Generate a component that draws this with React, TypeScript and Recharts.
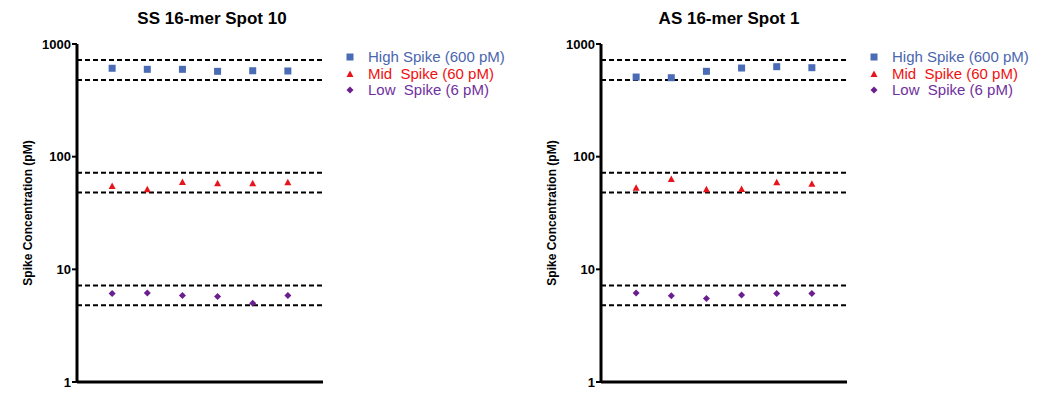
import { ScatterChart, Scatter, XAxis, YAxis, ReferenceLine } from 'recharts'

const FONT = '"Liberation Sans", Arial, sans-serif'

// replicate positions along the x axis
const positions = [1, 2, 3, 4, 5, 6]
const yTicks = [1, 10, 100, 1000]

// acceptance bands (+/- 20% of nominal spike)
const bandLines = [720, 480, 72, 48, 7.2, 4.8]

const ssHigh = [609, 596, 596, 572, 579, 576]
const ssMid = [55, 51.4, 59.6, 58, 58, 59.3]
const ssLow = [6.09, 6.18, 5.85, 5.73, 5.0, 5.85]

const asHigh = [509, 502, 572, 612, 629, 616]
const asMid = [53, 63.4, 51.4, 51.7, 59.3, 57.5]
const asLow = [6.15, 5.82, 5.5, 5.92, 6.09, 6.09]

const seriesNames = ['High Spike (600 pM)', 'Mid  Spike (60 pM)', 'Low  Spike (6 pM)']
const markerColors = ['#4a6bb5', '#e8141c', '#6b1f8f']
const textColors = ['#4a66ad', '#f01010', '#7030a0']

const toPoints = (vals: number[]) => vals.map((v, i) => ({ x: positions[i], y: v }))

const Square = (p: any) => <rect x={p.cx - 3.5} y={p.cy - 3.5} width={7} height={7} fill={markerColors[0]} />
const Triangle = (p: any) => (
    <polygon points={`${p.cx},${p.cy - 3.5} ${p.cx + 3.5},${p.cy + 3} ${p.cx - 3.5},${p.cy + 3}`} fill={markerColors[1]} />
)
const Diamond = (p: any) => (
    <polygon points={`${p.cx},${p.cy - 3.5} ${p.cx + 3.5},${p.cy} ${p.cx},${p.cy + 3.5} ${p.cx - 3.5},${p.cy}`} fill={markerColors[2]} />
)
const shapes = [Square, Triangle, Diamond]

function LegendBox() {
    return (
        <div style={{ position: 'absolute', left: 346, top: 49, fontFamily: FONT, fontSize: 15, lineHeight: '16.5px' }}>
            {seriesNames.map((n, i) => (
                <div key={n} style={{ display: 'flex', alignItems: 'center', whiteSpace: 'pre', color: textColors[i] }}>
                    <svg width={22} height={10}>{shapes[i]({ cx: 4, cy: 5 })}</svg>
                    <span>{n}</span>
                </div>
            ))}
        </div>
    )
}

interface PanelProps {
    title: string
    titleX: number
    high: number[]
    mid: number[]
    low: number[]
    left: number
}

function Panel({ title, titleX, high, mid, low, left }: PanelProps) {
    const sets = [high, mid, low]
    return (
        <div style={{ position: 'absolute', left, top: 0, width: 525, height: 397 }}>
            <ScatterChart width={525} height={397} margin={{ top: 44, right: 202, bottom: 15, left: 0 }}>
                <XAxis type="number" dataKey="x" domain={[0, 7]} hide />
                <YAxis type="number" dataKey="y" scale="log" domain={[1, 1000]} ticks={yTicks} width={77}
                    allowDataOverflow interval={0} tickSize={5} tickMargin={1}
                    axisLine={{ stroke: '#000', strokeWidth: 3 }} tickLine={{ stroke: '#000', strokeWidth: 2 }}
                    tick={{ fill: '#000', fontSize: 13, fontWeight: 'bold', fontFamily: FONT }} />
                {/* x axis baseline */}
                <ReferenceLine y={1} stroke="#000" strokeWidth={3} ifOverflow="visible" />
                {bandLines.map(v => (
                    <ReferenceLine key={v} y={v} stroke="#000" strokeWidth={2} strokeDasharray="5 3" />
                ))}
                {sets.map((s, i) => (
                    <Scatter key={i} name={seriesNames[i]} data={toPoints(s)} fill={markerColors[i]}
                        shape={shapes[i]} isAnimationActive={false} />
                ))}
            </ScatterChart>
            <LegendBox />
            <div style={{ position: 'absolute', left: titleX - 112, width: 224, top: 9, textAlign: 'center', fontFamily: FONT,
                fontWeight: 'bold', fontSize: 17, color: '#000' }}>{title}</div>
            <div style={{ position: 'absolute', left: 28, top: 213, width: 0, height: 0 }}>
                <div style={{ position: 'absolute', transform: 'translate(-50%, -50%) rotate(-90deg)', whiteSpace: 'nowrap',
                    fontFamily: FONT, fontWeight: 'bold', fontSize: 12, color: '#000' }}>Spike Concentration (pM)</div>
            </div>
        </div>
    )
}

export default function App() {
    return (
        <div style={{ position: 'absolute', left: 0, top: 0, width: 1050, height: 397, background: '#fff' }}>
            <Panel title="SS 16-mer Spot 10" titleX={212} high={ssHigh} mid={ssMid} low={ssLow} left={0} />
            <Panel title="AS 16-mer Spot 1" titleX={205} high={asHigh} mid={asMid} low={asLow} left={524} />
        </div>
    )
}
